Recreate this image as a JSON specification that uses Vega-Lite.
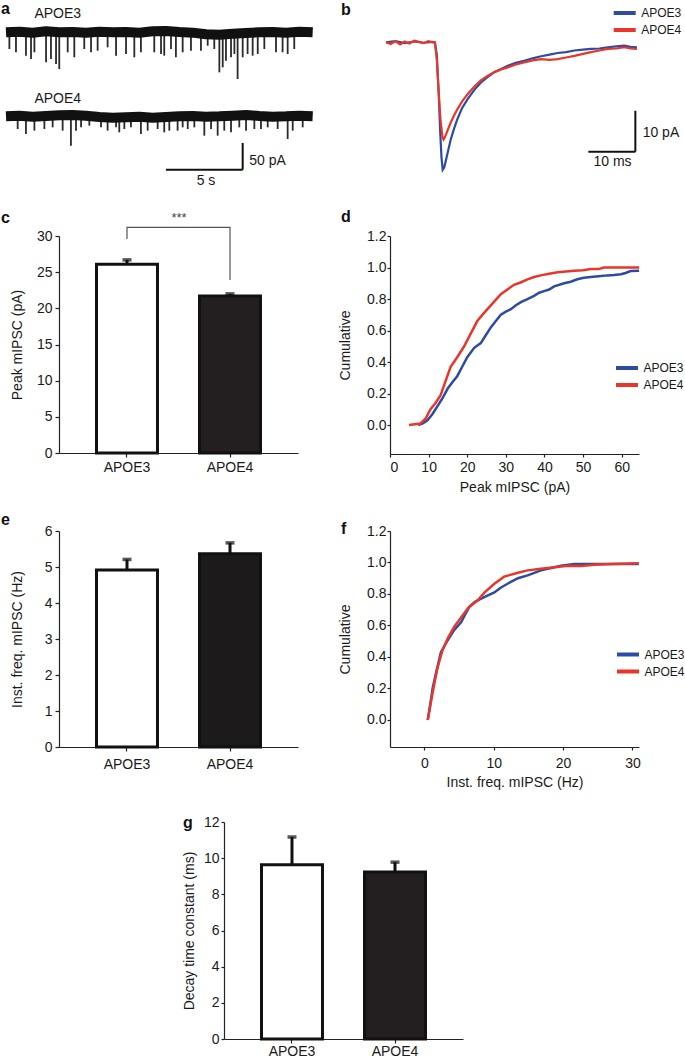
{
"$schema": "https://vega.github.io/schema/vega-lite/v6.json",
"padding": {"left": 0, "top": 0, "right": 0, "bottom": 0},
"background": "white",
"config": {
  "font": "Liberation Sans",
  "view": {"stroke": null},
  "axis": {"domainColor": "#222", "tickColor": "#222", "labelColor": "#1a1a1a", "titleColor": "#1a1a1a", "labelFontSize": 14, "titleFontSize": 14, "titleFontWeight": "normal", "grid": false, "tickSize": 4, "labelPadding": 3, "domainWidth": 1.2, "tickWidth": 1.2},
  "title": {"fontSize": 16, "fontWeight": "bold", "anchor": "start", "frame": "group", "baseline": "alphabetic", "offset": 0, "color": "#111"},
  "legend": {"labelFontSize": 12, "labelColor": "#1a1a1a", "padding": 0}
},
"resolve": {"scale": {"color": "independent", "x": "independent", "y": "independent"}, "legend": {"color": "independent"}},
"spacing": 808,
"bounds": "flush",
"datasets": {
  "a_base": [
    {"tr":"APOE3","t":0,"v":0},{"tr":"APOE3","t":0.87,"v":1.2},{"tr":"APOE3","t":1.74,"v":-0.6},{"tr":"APOE3","t":2.61,"v":1.8},{"tr":"APOE3","t":3.47,"v":0},{"tr":"APOE3","t":4.34,"v":0.6},{"tr":"APOE3","t":5.21,"v":-0.6},{"tr":"APOE3","t":6.08,"v":1.2},{"tr":"APOE3","t":6.95,"v":0},{"tr":"APOE3","t":7.82,"v":0.6},{"tr":"APOE3","t":8.69,"v":-0.6},{"tr":"APOE3","t":9.55,"v":1.8},{"tr":"APOE3","t":10.42,"v":2.5},{"tr":"APOE3","t":11.29,"v":0.6},{"tr":"APOE3","t":12.16,"v":-0.6},{"tr":"APOE3","t":13.03,"v":-3.7},{"tr":"APOE3","t":13.9,"v":-4.3},{"tr":"APOE3","t":14.77,"v":-2.5},{"tr":"APOE3","t":15.64,"v":-1.2},{"tr":"APOE3","t":16.5,"v":0},{"tr":"APOE3","t":17.37,"v":0.6},{"tr":"APOE3","t":18.24,"v":-0.6},{"tr":"APOE3","t":19.11,"v":1.2},{"tr":"APOE3","t":19.98,"v":0},
    {"tr":"APOE4","t":0,"v":-154.7},{"tr":"APOE4","t":0.87,"v":-153.5},{"tr":"APOE4","t":1.74,"v":-155.3},{"tr":"APOE4","t":2.61,"v":-154.1},{"tr":"APOE4","t":3.47,"v":-152.9},{"tr":"APOE4","t":4.34,"v":-152.3},{"tr":"APOE4","t":5.21,"v":-153.5},{"tr":"APOE4","t":6.08,"v":-155.9},{"tr":"APOE4","t":6.95,"v":-157.2},{"tr":"APOE4","t":7.82,"v":-156.5},{"tr":"APOE4","t":8.69,"v":-155.3},{"tr":"APOE4","t":9.55,"v":-157.2},{"tr":"APOE4","t":10.42,"v":-155.9},{"tr":"APOE4","t":11.29,"v":-154.7},{"tr":"APOE4","t":12.16,"v":-154.1},{"tr":"APOE4","t":13.03,"v":-155.3},{"tr":"APOE4","t":13.9,"v":-154.7},{"tr":"APOE4","t":14.77,"v":-153.5},{"tr":"APOE4","t":15.64,"v":-152.3},{"tr":"APOE4","t":16.5,"v":-154.1},{"tr":"APOE4","t":17.37,"v":-155.3},{"tr":"APOE4","t":18.24,"v":-154.7},{"tr":"APOE4","t":19.11,"v":-153.5},{"tr":"APOE4","t":19.98,"v":-154.7}
  ],
  "a_spk": [
    {"t":0.22,"v":-30.7,"base":0},{"t":0.65,"v":-36.8,"base":0},{"t":1.3,"v":-43.0,"base":0},{"t":1.63,"v":-49.1,"base":0},{"t":1.85,"v":-36.8,"base":0},{"t":2.61,"v":-55.3,"base":0},{"t":2.93,"v":-49.1,"base":0},{"t":3.26,"v":-58.3,"base":0},{"t":3.47,"v":-67.5,"base":0},{"t":4.02,"v":-36.8,"base":0},{"t":4.45,"v":-46.0,"base":0},{"t":5.1,"v":-30.7,"base":0},{"t":5.54,"v":-36.8,"base":0},{"t":5.97,"v":-33.8,"base":0},{"t":6.62,"v":-27.6,"base":0},{"t":7.17,"v":-43.0,"base":0},{"t":7.82,"v":-39.9,"base":0},{"t":8.36,"v":-46.0,"base":0},{"t":8.79,"v":-36.8,"base":0},{"t":9.66,"v":-36.8,"base":0},{"t":10.1,"v":-39.9,"base":0},{"t":10.31,"v":-43.0,"base":0},{"t":10.75,"v":-30.7,"base":0},{"t":11.07,"v":-46.0,"base":0},{"t":11.51,"v":-36.8,"base":0},{"t":12.05,"v":-33.8,"base":0},{"t":12.7,"v":-33.8,"base":0},{"t":13.14,"v":-24.6,"base":0},{"t":13.57,"v":-30.7,"base":0},{"t":13.9,"v":-73.7,"base":0},{"t":14.12,"v":-64.5,"base":0},{"t":14.33,"v":-52.2,"base":0},{"t":14.66,"v":-46.0,"base":0},{"t":14.88,"v":-39.9,"base":0},{"t":15.09,"v":-86.0,"base":0},{"t":15.42,"v":-46.0,"base":0},{"t":15.74,"v":-39.9,"base":0},{"t":16.07,"v":-43.0,"base":0},{"t":16.4,"v":-39.9,"base":0},{"t":16.83,"v":-30.7,"base":0},{"t":17.59,"v":-36.8,"base":0},{"t":18.02,"v":-36.8,"base":0},{"t":18.35,"v":-39.9,"base":0},{"t":18.78,"v":-30.7,"base":0},
    {"t":0.76,"v":-178.0,"base":-154.7},{"t":1.3,"v":-187.2,"base":-154.7},{"t":1.85,"v":-181.1,"base":-154.7},{"t":2.5,"v":-178.0,"base":-154.7},{"t":3.04,"v":-175.0,"base":-154.7},{"t":3.69,"v":-181.1,"base":-154.7},{"t":4.23,"v":-208.7,"base":-154.7},{"t":4.56,"v":-181.1,"base":-154.7},{"t":4.89,"v":-175.0,"base":-154.7},{"t":5.43,"v":-171.9,"base":-154.7},{"t":6.19,"v":-175.0,"base":-154.7},{"t":6.62,"v":-181.1,"base":-154.7},{"t":7.17,"v":-175.0,"base":-154.7},{"t":7.38,"v":-184.2,"base":-154.7},{"t":7.71,"v":-178.0,"base":-154.7},{"t":8.14,"v":-175.0,"base":-154.7},{"t":8.79,"v":-187.2,"base":-154.7},{"t":9.23,"v":-181.1,"base":-154.7},{"t":9.88,"v":-178.0,"base":-154.7},{"t":10.31,"v":-184.2,"base":-154.7},{"t":10.64,"v":-181.1,"base":-154.7},{"t":11.18,"v":-181.1,"base":-154.7},{"t":11.51,"v":-175.0,"base":-154.7},{"t":11.84,"v":-178.0,"base":-154.7},{"t":12.27,"v":-175.0,"base":-154.7},{"t":12.92,"v":-190.3,"base":-154.7},{"t":13.36,"v":-178.0,"base":-154.7},{"t":13.79,"v":-190.3,"base":-154.7},{"t":14.22,"v":-181.1,"base":-154.7},{"t":14.66,"v":-184.2,"base":-154.7},{"t":15.2,"v":-175.0,"base":-154.7},{"t":15.64,"v":-181.1,"base":-154.7},{"t":16.18,"v":-178.0,"base":-154.7},{"t":16.61,"v":-178.0,"base":-154.7},{"t":17.05,"v":-175.0,"base":-154.7},{"t":17.7,"v":-178.0,"base":-154.7},{"t":18.35,"v":-196.4,"base":-154.7},{"t":18.68,"v":-181.1,"base":-154.7},{"t":19.33,"v":-175.0,"base":-154.7}
  ],
  "a_lab": [{"t":1.85,"v":33.8,"txt":"APOE3"},{"t":1.85,"v":-122.8,"txt":"APOE4"},{"t":15.85,"v":-236.3,"txt":"50 pA"}],
  "a_lab2": [{"t":13.03,"v":-273.2,"txt":"5 s"}],
  "a_bar": [{"t":10.42,"t2":15.42,"v":-252.9,"v2":-252.9},{"t":15.42,"t2":15.42,"v":-203.8,"v2":-252.9}],
  "b_curve": [
    {"grp":"APOE3","t":0,"v":0},{"grp":"APOE3","t":2,"v":0.3},{"grp":"APOE3","t":4,"v":-0.2},{"grp":"APOE3","t":6,"v":0.2},{"grp":"APOE3","t":8,"v":-0.1},{"grp":"APOE3","t":10,"v":0.1},{"grp":"APOE3","t":10.4,"v":0},{"grp":"APOE3","t":10.8,"v":-3},{"grp":"APOE3","t":11.2,"v":-12},{"grp":"APOE3","t":11.5,"v":-21},{"grp":"APOE3","t":11.8,"v":-28},{"grp":"APOE3","t":12.06,"v":-31.1},{"grp":"APOE3","t":12.4,"v":-30.5},{"grp":"APOE3","t":12.8,"v":-28.5},{"grp":"APOE3","t":13.3,"v":-26},{"grp":"APOE3","t":13.8,"v":-23.6},{"grp":"APOE3","t":14.5,"v":-21},{"grp":"APOE3","t":15.2,"v":-18.7},{"grp":"APOE3","t":16.2,"v":-16},{"grp":"APOE3","t":17.4,"v":-13.8},{"grp":"APOE3","t":18.8,"v":-11.6},{"grp":"APOE3","t":20.2,"v":-9.8},{"grp":"APOE3","t":21.6,"v":-8.5},{"grp":"APOE3","t":23,"v":-7.3},{"grp":"APOE3","t":24.5,"v":-6.5},{"grp":"APOE3","t":25.9,"v":-5.7},{"grp":"APOE3","t":27.6,"v":-5.0},{"grp":"APOE3","t":29.4,"v":-4.5},{"grp":"APOE3","t":31.2,"v":-3.9},{"grp":"APOE3","t":33,"v":-3.4},{"grp":"APOE3","t":34.8,"v":-3.0},{"grp":"APOE3","t":36.5,"v":-2.6},{"grp":"APOE3","t":38.3,"v":-2.4},{"grp":"APOE3","t":40.1,"v":-2.0},{"grp":"APOE3","t":41.9,"v":-1.8},{"grp":"APOE3","t":43.6,"v":-1.6},{"grp":"APOE3","t":45.4,"v":-1.5},{"grp":"APOE3","t":47.2,"v":-1.2},{"grp":"APOE3","t":49,"v":-1.0},{"grp":"APOE3","t":50.7,"v":-0.8},{"grp":"APOE3","t":52,"v":-1.1},{"grp":"APOE3","t":53.4,"v":-1.2},
    {"grp":"APOE4","t":0,"v":0},{"grp":"APOE4","t":1,"v":-0.4},{"grp":"APOE4","t":2,"v":0.3},{"grp":"APOE4","t":3,"v":-0.5},{"grp":"APOE4","t":4,"v":0.2},{"grp":"APOE4","t":5,"v":-0.3},{"grp":"APOE4","t":6,"v":0.4},{"grp":"APOE4","t":7,"v":0.1},{"grp":"APOE4","t":8,"v":-0.2},{"grp":"APOE4","t":9,"v":0.3},{"grp":"APOE4","t":10,"v":0},{"grp":"APOE4","t":10.4,"v":0},{"grp":"APOE4","t":10.8,"v":-4},{"grp":"APOE4","t":11.2,"v":-12},{"grp":"APOE4","t":11.6,"v":-19},{"grp":"APOE4","t":12.0,"v":-23},{"grp":"APOE4","t":12.25,"v":-23.7},{"grp":"APOE4","t":12.6,"v":-23},{"grp":"APOE4","t":13.0,"v":-21.8},{"grp":"APOE4","t":13.8,"v":-19.5},{"grp":"APOE4","t":14.5,"v":-17.8},{"grp":"APOE4","t":15.2,"v":-16.3},{"grp":"APOE4","t":16.2,"v":-14.4},{"grp":"APOE4","t":17.4,"v":-12.6},{"grp":"APOE4","t":18.8,"v":-10.8},{"grp":"APOE4","t":20.2,"v":-9.3},{"grp":"APOE4","t":21.6,"v":-8.2},{"grp":"APOE4","t":23,"v":-7.3},{"grp":"APOE4","t":24.5,"v":-6.6},{"grp":"APOE4","t":25.9,"v":-6.1},{"grp":"APOE4","t":27.6,"v":-5.4},{"grp":"APOE4","t":29.4,"v":-4.9},{"grp":"APOE4","t":31.2,"v":-4.4},{"grp":"APOE4","t":33,"v":-4.1},{"grp":"APOE4","t":34.8,"v":-4.3},{"grp":"APOE4","t":36.5,"v":-4.1},{"grp":"APOE4","t":38.3,"v":-3.7},{"grp":"APOE4","t":40.1,"v":-3.3},{"grp":"APOE4","t":41.9,"v":-2.8},{"grp":"APOE4","t":43.6,"v":-2.4},{"grp":"APOE4","t":45.4,"v":-2.0},{"grp":"APOE4","t":47.2,"v":-1.6},{"grp":"APOE4","t":49,"v":-1.5},{"grp":"APOE4","t":50.7,"v":-1.2},{"grp":"APOE4","t":52,"v":-1.5},{"grp":"APOE4","t":53.4,"v":-1.6}
  ],
  "b_bar": [{"t":43.05,"t2":53.05,"v":-26.7,"v2":-26.7},{"t":53.05,"t2":53.05,"v":-26.7,"v2":-16.7}],
  "b_lab": [{"t":54.6,"v":-22,"txt":"10 pA"}],
  "b_lab2": [{"t":48.2,"v":-29.2,"txt":"10 ms"}],
  "c_bar": [{"g":"APOE3","mean":26.1,"err":26.7},{"g":"APOE4","mean":21.7,"err":22.0}],
  "c_br": [{"g":"APOE3","y":29.6,"o":1},{"g":"APOE3","y":31.2,"o":2},{"g":"APOE4","y":31.2,"o":3},{"g":"APOE4","y":23.9,"o":4}],
  "c_star": [{"g":"APOE3","y":32.5,"txt":"***"}],
  "d_curve": [
    {"grp":"APOE3","x":7.3,"y":0},{"grp":"APOE3","x":8.5,"y":0.01},{"grp":"APOE3","x":9.7,"y":0.03},{"grp":"APOE3","x":11,"y":0.07},{"grp":"APOE3","x":12.3,"y":0.12},{"grp":"APOE3","x":13.6,"y":0.17},{"grp":"APOE3","x":14.9,"y":0.23},{"grp":"APOE3","x":16.1,"y":0.27},{"grp":"APOE3","x":17.4,"y":0.31},{"grp":"APOE3","x":18.7,"y":0.37},{"grp":"APOE3","x":20,"y":0.43},{"grp":"APOE3","x":21.8,"y":0.49},{"grp":"APOE3","x":23.5,"y":0.52},{"grp":"APOE3","x":24.8,"y":0.57},{"grp":"APOE3","x":26.1,"y":0.62},{"grp":"APOE3","x":27.4,"y":0.66},{"grp":"APOE3","x":28.7,"y":0.7},{"grp":"APOE3","x":30,"y":0.72},{"grp":"APOE3","x":31.3,"y":0.735},{"grp":"APOE3","x":32.6,"y":0.76},{"grp":"APOE3","x":33.9,"y":0.78},{"grp":"APOE3","x":35.6,"y":0.8},{"grp":"APOE3","x":37.3,"y":0.82},{"grp":"APOE3","x":38.6,"y":0.84},{"grp":"APOE3","x":39.9,"y":0.85},{"grp":"APOE3","x":41.2,"y":0.86},{"grp":"APOE3","x":42.5,"y":0.88},{"grp":"APOE3","x":45.1,"y":0.9},{"grp":"APOE3","x":46.8,"y":0.91},{"grp":"APOE3","x":48.5,"y":0.925},{"grp":"APOE3","x":50.2,"y":0.935},{"grp":"APOE3","x":52,"y":0.94},{"grp":"APOE3","x":54,"y":0.945},{"grp":"APOE3","x":56.3,"y":0.95},{"grp":"APOE3","x":58,"y":0.952},{"grp":"APOE3","x":59.8,"y":0.957},{"grp":"APOE3","x":61,"y":0.965},{"grp":"APOE3","x":62.3,"y":0.978},{"grp":"APOE3","x":64.5,"y":0.98},
    {"grp":"APOE4","x":4.9,"y":0},{"grp":"APOE4","x":7.9,"y":0.01},{"grp":"APOE4","x":9.2,"y":0.04},{"grp":"APOE4","x":10.5,"y":0.1},{"grp":"APOE4","x":11.8,"y":0.14},{"grp":"APOE4","x":13.1,"y":0.19},{"grp":"APOE4","x":14.4,"y":0.28},{"grp":"APOE4","x":15.7,"y":0.37},{"grp":"APOE4","x":17.4,"y":0.43},{"grp":"APOE4","x":19.2,"y":0.5},{"grp":"APOE4","x":20.9,"y":0.58},{"grp":"APOE4","x":22.6,"y":0.66},{"grp":"APOE4","x":24.3,"y":0.71},{"grp":"APOE4","x":26.1,"y":0.76},{"grp":"APOE4","x":28.7,"y":0.83},{"grp":"APOE4","x":30.4,"y":0.86},{"grp":"APOE4","x":32.1,"y":0.89},{"grp":"APOE4","x":33.8,"y":0.905},{"grp":"APOE4","x":35.6,"y":0.925},{"grp":"APOE4","x":37.3,"y":0.94},{"grp":"APOE4","x":39,"y":0.95},{"grp":"APOE4","x":41.2,"y":0.96},{"grp":"APOE4","x":43.4,"y":0.97},{"grp":"APOE4","x":45.5,"y":0.975},{"grp":"APOE4","x":47.7,"y":0.98},{"grp":"APOE4","x":50,"y":0.983},{"grp":"APOE4","x":52,"y":0.99},{"grp":"APOE4","x":54,"y":0.99},{"grp":"APOE4","x":55.4,"y":1.0},{"grp":"APOE4","x":60,"y":1.0},{"grp":"APOE4","x":64.5,"y":1.0}
  ],
  "e_bar": [{"g":"APOE3","mean":4.92,"err":5.21},{"g":"APOE4","mean":5.37,"err":5.67}],
  "f_curve": [
    {"grp":"APOE3","x":0.5,"y":0},{"grp":"APOE3","x":0.8,"y":0.08},{"grp":"APOE3","x":1.2,"y":0.2},{"grp":"APOE3","x":1.7,"y":0.3},{"grp":"APOE3","x":2.4,"y":0.43},{"grp":"APOE3","x":3.3,"y":0.5},{"grp":"APOE3","x":4.3,"y":0.57},{"grp":"APOE3","x":5.3,"y":0.62},{"grp":"APOE3","x":5.9,"y":0.67},{"grp":"APOE3","x":6.5,"y":0.72},{"grp":"APOE3","x":7.3,"y":0.75},{"grp":"APOE3","x":8.2,"y":0.77},{"grp":"APOE3","x":9.1,"y":0.79},{"grp":"APOE3","x":10.1,"y":0.81},{"grp":"APOE3","x":11,"y":0.84},{"grp":"APOE3","x":12,"y":0.865},{"grp":"APOE3","x":13.5,"y":0.9},{"grp":"APOE3","x":15,"y":0.92},{"grp":"APOE3","x":16.8,"y":0.95},{"grp":"APOE3","x":18.3,"y":0.965},{"grp":"APOE3","x":19.7,"y":0.98},{"grp":"APOE3","x":21.6,"y":0.99},{"grp":"APOE3","x":25,"y":0.99},{"grp":"APOE3","x":30.9,"y":0.99},
    {"grp":"APOE4","x":0.5,"y":0},{"grp":"APOE4","x":0.9,"y":0.1},{"grp":"APOE4","x":1.4,"y":0.22},{"grp":"APOE4","x":1.9,"y":0.33},{"grp":"APOE4","x":2.6,"y":0.44},{"grp":"APOE4","x":3.4,"y":0.52},{"grp":"APOE4","x":4.3,"y":0.59},{"grp":"APOE4","x":5.3,"y":0.65},{"grp":"APOE4","x":6.3,"y":0.71},{"grp":"APOE4","x":7.7,"y":0.76},{"grp":"APOE4","x":8.7,"y":0.81},{"grp":"APOE4","x":10.1,"y":0.865},{"grp":"APOE4","x":11.5,"y":0.91},{"grp":"APOE4","x":13.5,"y":0.935},{"grp":"APOE4","x":14.9,"y":0.95},{"grp":"APOE4","x":16.8,"y":0.96},{"grp":"APOE4","x":18.8,"y":0.97},{"grp":"APOE4","x":20.7,"y":0.98},{"grp":"APOE4","x":22.6,"y":0.977},{"grp":"APOE4","x":24.5,"y":0.985},{"grp":"APOE4","x":27,"y":0.99},{"grp":"APOE4","x":30.9,"y":0.995}
  ],
  "g_bar": [{"g":"APOE3","mean":9.63,"err":11.17},{"g":"APOE4","mean":9.23,"err":9.78}]
},
"vconcat": [
{
"columns": 2,
"spacing": {"row": 77, "column": 92},
"bounds": "flush",
"align": "each",
"resolve": {"scale": {"color": "independent", "x": "independent", "y": "independent"}, "legend": {"color": "independent"}},
"concat": [
  {
    "width": 239, "height": 145,
    "title": {"text": "a", "dx": -58, "dy": 14},
    "encoding": {
      "x": {"field": "t", "type": "quantitative", "scale": {"domain": [3.453, 19.024], "nice": false, "zero": false}, "axis": null},
      "y": {"field": "v", "type": "quantitative", "scale": {"domain": [-233.3, 33.75], "nice": false, "zero": false}, "axis": null}
    },
    "layer": [
      {"data": {"name": "a_spk"}, "mark": {"type": "rule", "color": "#2a2a2a", "strokeWidth": 1.8}, "encoding": {"y2": {"field": "base"}}},
      {"data": {"name": "a_base"}, "mark": {"type": "line", "color": "#111", "strokeWidth": 10, "strokeJoin": "round"}, "encoding": {"detail": {"field": "tr"}}},
      {"data": {"name": "a_bar"}, "mark": {"type": "rule", "color": "#111", "strokeWidth": 2}, "encoding": {"x2": {"field": "t2"}, "y2": {"field": "v2"}}},
      {"data": {"name": "a_lab"}, "mark": {"type": "text", "align": "left", "baseline": "middle", "fontSize": 14, "color": "#1a1a1a"}, "encoding": {"text": {"field": "txt"}}},
      {"data": {"name": "a_lab2"}, "mark": {"type": "text", "align": "center", "baseline": "middle", "fontSize": 14, "color": "#1a1a1a"}, "encoding": {"text": {"field": "txt"}}}
    ]
  },
  {
    "width": 250, "height": 145,
    "title": {"text": "b", "dx": -49, "dy": 16},
    "encoding": {
      "x": {"field": "t", "type": "quantitative", "scale": {"domain": [0.851, 54.04], "nice": false, "zero": false}, "axis": null},
      "y": {"field": "v", "type": "quantitative", "scale": {"domain": [-28.46, 6.91], "nice": false, "zero": false}, "axis": null}
    },
    "layer": [
      {"data": {"name": "b_curve"}, "mark": {"type": "line", "strokeWidth": 2.2}, "encoding": {
        "color": {"field": "grp", "type": "nominal", "scale": {"domain": ["APOE3", "APOE4"], "range": ["#2d4ba5", "#e8372a"]},
          "legend": {"orient": "none", "legendX": 227.2, "legendY": -8.5, "title": null, "symbolType": "M-2,0L2,0", "symbolSize": 121, "symbolStrokeWidth": 4, "labelFontSize": 12, "labelOffset": 9, "rowPadding": 0}}}},
      {"data": {"name": "b_bar"}, "mark": {"type": "rule", "color": "#111", "strokeWidth": 2}, "encoding": {"x2": {"field": "t2"}, "y2": {"field": "v2"}}},
      {"data": {"name": "b_lab"}, "mark": {"type": "text", "align": "left", "baseline": "middle", "fontSize": 14, "color": "#1a1a1a"}, "encoding": {"text": {"field": "txt"}}},
      {"data": {"name": "b_lab2"}, "mark": {"type": "text", "align": "center", "baseline": "middle", "fontSize": 14, "color": "#1a1a1a"}, "encoding": {"text": {"field": "txt"}}}
    ]
  },
  {
    "width": 239, "height": 217,
    "title": {"text": "c", "dx": -58, "dy": 18},
    "encoding": {
      "x": {"field": "g", "type": "nominal", "sort": ["APOE3", "APOE4"], "scale": {"paddingInner": 0.408, "paddingOuter": 0.364}, "axis": {"title": null, "labelAngle": 0, "tickSize": 4, "labelPadding": 3}}
    },
    "layer": [
      {"data": {"name": "c_bar"}, "mark": {"type": "rule", "color": "#111", "strokeWidth": 3}, "encoding": {
        "y": {"field": "mean", "type": "quantitative", "scale": {"domain": [0, 30], "nice": false}, "axis": {"title": "Peak mIPSC (pA)", "values": [0, 5, 10, 15, 20, 25, 30], "titlePadding": 12}},
        "y2": {"field": "err"}}},
      {"data": {"name": "c_bar"}, "mark": {"type": "tick", "color": "#111", "size": 9, "thickness": 3.5}, "encoding": {
        "y": {"field": "err", "type": "quantitative", "scale": {"domain": [0, 30], "nice": false}, "axis": {"title": "Peak mIPSC (pA)", "values": [0, 5, 10, 15, 20, 25, 30], "titlePadding": 12}}}},
      {"data": {"name": "c_bar"}, "mark": {"type": "bar", "stroke": "#111", "strokeWidth": 3}, "encoding": {
        "y": {"field": "mean", "type": "quantitative", "scale": {"domain": [0, 30], "nice": false}, "axis": {"title": "Peak mIPSC (pA)", "values": [0, 5, 10, 15, 20, 25, 30], "titlePadding": 12}},
        "color": {"field": "g", "type": "nominal", "scale": {"domain": ["APOE3", "APOE4"], "range": ["#ffffff", "#231f20"]}, "legend": null}}},
      {"data": {"name": "c_br"}, "mark": {"type": "line", "color": "#555", "strokeWidth": 1.2}, "encoding": {
        "y": {"field": "y", "type": "quantitative", "scale": {"domain": [0, 30], "nice": false}, "axis": {"title": "Peak mIPSC (pA)", "values": [0, 5, 10, 15, 20, 25, 30], "titlePadding": 12}},
        "order": {"field": "o"}}},
      {"data": {"name": "c_star"}, "mark": {"type": "text", "dx": 52, "fontSize": 13, "color": "#444", "baseline": "middle"}, "encoding": {
        "y": {"field": "y", "type": "quantitative", "scale": {"domain": [0, 30], "nice": false}, "axis": {"title": "Peak mIPSC (pA)", "values": [0, 5, 10, 15, 20, 25, 30], "titlePadding": 12}},
        "text": {"field": "txt"}}}
    ]
  },
  {
    "width": 249, "height": 218,
    "title": {"text": "d", "dx": -49, "dy": 0},
    "data": {"name": "d_curve"},
    "mark": {"type": "line", "strokeWidth": 2.5},
    "encoding": {
      "x": {"field": "x", "type": "quantitative", "scale": {"domain": [0, 64.47], "nice": false, "zero": false}, "axis": {"title": "Peak mIPSC (pA)", "values": [0, 10, 20, 30, 40, 50, 60], "tickSize": 3, "labelPadding": 3, "titlePadding": 6}},
      "y": {"field": "y", "type": "quantitative", "scale": {"domain": [-0.184, 1.2], "nice": false, "zero": false}, "axis": {"title": "Cumulative", "values": [0, 0.2, 0.4, 0.6, 0.8, 1.0, 1.2], "format": ".1f", "tickSize": 3, "labelPadding": 1, "titlePadding": 14}},
      "color": {"field": "grp", "type": "nominal", "scale": {"domain": ["APOE3", "APOE4"], "range": ["#2d4ba5", "#e8372a"]},
        "legend": {"orient": "none", "legendX": 229.5, "legendY": 124.5, "title": null, "symbolType": "M-2,0L2,0", "symbolSize": 121, "symbolStrokeWidth": 4, "labelFontSize": 12, "labelOffset": 9, "rowPadding": 0}}
    }
  },
  {
    "width": 239, "height": 216,
    "title": {"text": "e", "dx": -58, "dy": 8},
    "encoding": {
      "x": {"field": "g", "type": "nominal", "sort": ["APOE3", "APOE4"], "scale": {"paddingInner": 0.408, "paddingOuter": 0.364}, "axis": {"title": null, "labelAngle": 0, "tickSize": 4, "labelPadding": 6}}
    },
    "layer": [
      {"data": {"name": "e_bar"}, "mark": {"type": "rule", "color": "#111", "strokeWidth": 3}, "encoding": {
        "y": {"field": "mean", "type": "quantitative", "scale": {"domain": [0, 6], "nice": false}, "axis": {"title": "Inst. freq. mIPSC (Hz)", "values": [0, 1, 2, 3, 4, 5, 6], "titlePadding": 20}},
        "y2": {"field": "err"}}},
      {"data": {"name": "e_bar"}, "mark": {"type": "tick", "color": "#111", "size": 9, "thickness": 3.5}, "encoding": {
        "y": {"field": "err", "type": "quantitative", "scale": {"domain": [0, 6], "nice": false}, "axis": {"title": "Inst. freq. mIPSC (Hz)", "values": [0, 1, 2, 3, 4, 5, 6], "titlePadding": 20}}}},
      {"data": {"name": "e_bar"}, "mark": {"type": "bar", "stroke": "#111", "strokeWidth": 3}, "encoding": {
        "y": {"field": "mean", "type": "quantitative", "scale": {"domain": [0, 6], "nice": false}, "axis": {"title": "Inst. freq. mIPSC (Hz)", "values": [0, 1, 2, 3, 4, 5, 6], "titlePadding": 20}},
        "color": {"field": "g", "type": "nominal", "scale": {"domain": ["APOE3", "APOE4"], "range": ["#ffffff", "#1c1a1b"]}, "legend": null}}}
    ]
  },
  {
    "width": 249, "height": 216,
    "title": {"text": "f", "dx": -49, "dy": 17},
    "data": {"name": "f_curve"},
    "mark": {"type": "line", "strokeWidth": 2.5},
    "encoding": {
      "x": {"field": "x", "type": "quantitative", "scale": {"domain": [-4.94, 30.94], "nice": false, "zero": false}, "axis": {"title": "Inst. freq. mIPSC (Hz)", "values": [0, 10, 20, 30], "tickSize": 3, "labelPadding": 6, "titlePadding": 5}},
      "y": {"field": "y", "type": "quantitative", "scale": {"domain": [-0.172, 1.2], "nice": false, "zero": false}, "axis": {"title": "Cumulative", "values": [0, 0.2, 0.4, 0.6, 0.8, 1.0, 1.2], "format": ".1f", "tickSize": 3, "labelPadding": 1, "titlePadding": 14}},
      "color": {"field": "grp", "type": "nominal", "scale": {"domain": ["APOE3", "APOE4"], "range": ["#2d4ba5", "#e8372a"]},
        "legend": {"orient": "none", "legendX": 230.5, "legendY": 116, "title": null, "symbolType": "M-2,0L2,0", "symbolSize": 121, "symbolStrokeWidth": 4, "labelFontSize": 12, "labelOffset": 9, "rowPadding": 0}}
    }
  }
]
},
{
"spacing": 92,
"bounds": "flush",
"hconcat": [
  {
    "width": 73, "height": 217,
    "data": {"values": []},
    "mark": "point",
    "encoding": {}
  },
  {
    "width": 239, "height": 217,
    "title": {"text": "g", "dx": -41, "dy": 20},
    "encoding": {
      "x": {"field": "g", "type": "nominal", "sort": ["APOE3", "APOE4"], "scale": {"paddingInner": 0.408, "paddingOuter": 0.364}, "axis": {"title": null, "labelAngle": 0, "tickSize": 4, "labelPadding": 1}}
    },
    "layer": [
      {"data": {"name": "g_bar"}, "mark": {"type": "rule", "color": "#111", "strokeWidth": 3}, "encoding": {
        "y": {"field": "mean", "type": "quantitative", "scale": {"domain": [0, 12], "nice": false}, "axis": {"title": "Decay time constant (ms)", "values": [0, 2, 4, 6, 8, 10, 12], "tickSize": 3, "labelPadding": 2, "titlePadding": 7}},
        "y2": {"field": "err"}}},
      {"data": {"name": "g_bar"}, "mark": {"type": "tick", "color": "#111", "size": 9, "thickness": 3.5}, "encoding": {
        "y": {"field": "err", "type": "quantitative", "scale": {"domain": [0, 12], "nice": false}, "axis": {"title": "Decay time constant (ms)", "values": [0, 2, 4, 6, 8, 10, 12], "tickSize": 3, "labelPadding": 2, "titlePadding": 7}}}},
      {"data": {"name": "g_bar"}, "mark": {"type": "bar", "stroke": "#111", "strokeWidth": 3}, "encoding": {
        "y": {"field": "mean", "type": "quantitative", "scale": {"domain": [0, 12], "nice": false}, "axis": {"title": "Decay time constant (ms)", "values": [0, 2, 4, 6, 8, 10, 12], "tickSize": 3, "labelPadding": 2, "titlePadding": 7}},
        "color": {"field": "g", "type": "nominal", "scale": {"domain": ["APOE3", "APOE4"], "range": ["#ffffff", "#231f20"]}, "legend": null}}}
    ]
  }
]
}
]
}
